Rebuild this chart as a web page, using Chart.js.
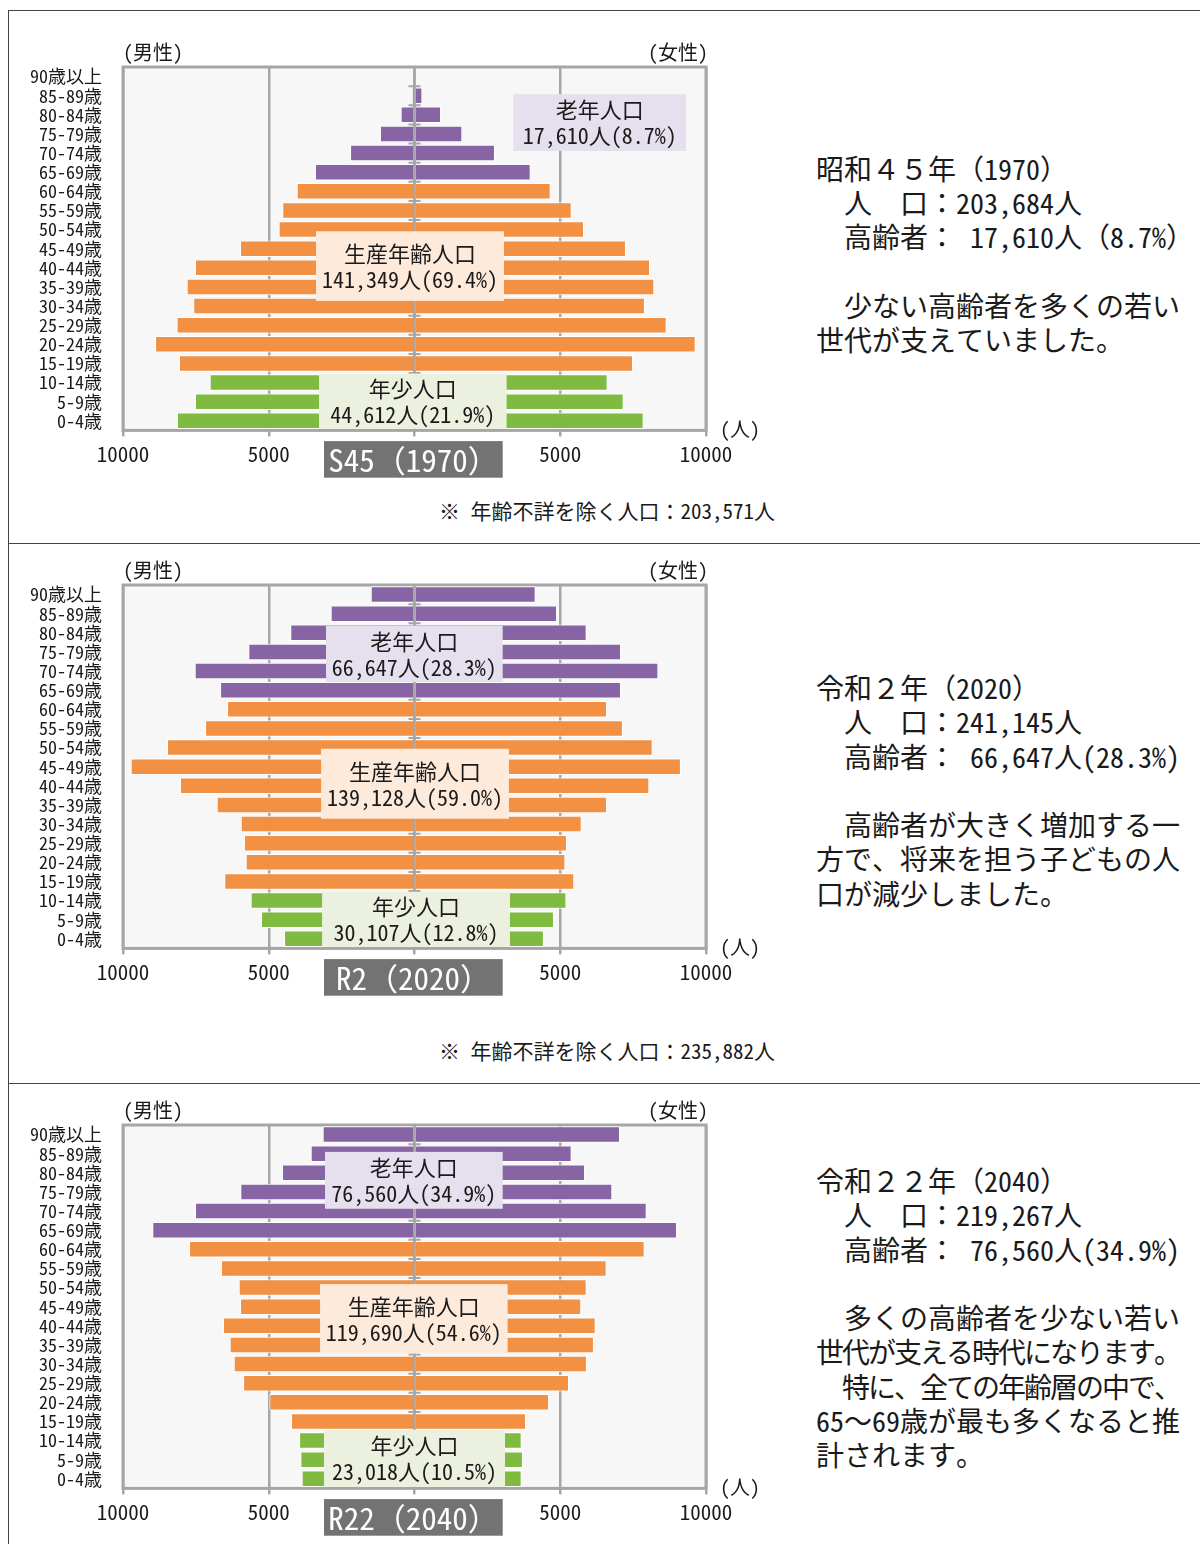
<!DOCTYPE html>
<html lang="ja">
<head>
<meta charset="UTF-8">
<title>人口ピラミッド</title>
<script src="https://cdn.jsdelivr.net/npm/chart.js@4.4.1/dist/chart.umd.min.js"></script>
<style>
  html, body { margin: 0; padding: 0; background: #fff; }
  body { width: 1200px; height: 1544px; position: relative; overflow: hidden;
         font-family: "Noto Sans Mono CJK JP", "Noto Sans CJK JP", sans-serif; color: #1a1a1a; }
  .frame { position: absolute; left: 8px; top: 10px; right: 0; bottom: 0;
           border-left: 1.5px solid #444; border-top: 1.5px solid #444; }
  .sep { position: absolute; left: 8px; right: 0; height: 0; border-top: 1.5px solid #444; }
  canvas { position: absolute; left: 0; }
  .desc { position: absolute; left: 816px; font-size: 28px; line-height: 34.3px; white-space: pre; }
  .tight { letter-spacing: -2px; }
  .note { position: absolute; left: 439px; font-size: 21px; line-height: 28px; white-space: pre; }
</style>
</head>
<body>
<div class="frame"></div>
<div class="sep" style="top:543px"></div>
<div class="sep" style="top:1083px"></div>

<canvas id="c1970" width="800" height="470" style="top:21.8px"></canvas>
<canvas id="c2020" width="800" height="470" style="top:540px"></canvas>
<canvas id="c2040" width="800" height="470" style="top:1080.1px"></canvas>

<div class="desc" style="top:150.8px">昭和４５年（1970）
　人　口：203,684人
　高齢者： 17,610人（8.7%）

　少ない高齢者を多くの若い
世代が支えていました。</div>
<div class="note" style="top:496px">※ 年齢不詳を除く人口：203,571人</div>

<div class="desc" style="top:670px">令和２年（2020）
　人　口：241,145人
　高齢者： 66,647人(28.3%)

　高齢者が大きく増加する一
方で、将来を担う子どもの人
口が減少しました。</div>
<div class="note" style="top:1036px">※ 年齢不詳を除く人口：235,882人</div>

<div class="desc" style="top:1163px">令和２２年（2040）
　人　口：219,267人
　高齢者： 76,560人(34.9%)

　多くの高齢者を少ない若い
<span class="tight">世代が支える時代になります。</span>
<span class="tight">　特に、全ての年齢層の中で、</span>
65～69歳が最も多くなると推
計されます。</div>

<script>
// age groups, top row first
const ages = ['90歳以上', '85-89歳', '80-84歳', '75-79歳', '70-74歳', '65-69歳',
  '60-64歳', '55-59歳', '50-54歳', '45-49歳', '40-44歳', '35-39歳', '30-34歳',
  '25-29歳', '20-24歳', '15-19歳', '10-14歳', '5-9歳', '0-4歳'];
const ageGroup = ['old', 'old', 'old', 'old', 'old', 'old',
  'work', 'work', 'work', 'work', 'work', 'work', 'work', 'work', 'work', 'work',
  'young', 'young', 'young'];

const male1970   = [20, 75, 475, 1185, 2210, 3415, 4040, 4535, 4660, 5985, 7530, 7815, 7590, 8160, 8900, 8080, 7025, 7530, 8150];
const female1970 = [60, 270, 910, 1640, 2760, 3985, 4670, 5390, 5815, 7255, 8080, 8225, 7905, 8650, 9645, 7495, 6625, 7175, 7860];
const male2020   = [1500, 2875, 4260, 5700, 7540, 6670, 6430, 7185, 8490, 9735, 8045, 6785, 5960, 5850, 5790, 6525, 5620, 5265, 4475];
const female2020 = [4155, 4890, 5905, 7085, 8365, 7085, 6605, 7150, 8170, 9140, 8055, 6605, 5735, 5230, 5175, 5480, 5210, 4785, 4440];
const male2040   = [3150, 3560, 4545, 5975, 7530, 8995, 7735, 6640, 6030, 5985, 6570, 6340, 6200, 5880, 4980, 4235, 3960, 3915, 3870];
const female2040 = [7050, 5390, 5850, 6785, 7965, 9005, 7895, 6590, 5905, 5720, 6215, 6155, 5915, 5300, 4615, 3825, 3675, 3720, 3675];

const FONT = "'Noto Sans Mono CJK JP', 'Noto Sans CJK JP', sans-serif";
const GRID = '#a6a6a6';
const barColor = { old: '#8764a3', work: '#f29143', young: '#80bb41' };
const boxColor = { old: '#e5dfee', work: '#fdeadb', young: '#ebf1de' };
const barColors = ageGroup.map(g => barColor[g]);

// draws plot background, frame, centre axis, group boxes and labels
const decor = {
  id: 'decor',
  beforeDraw(chart) {
    const { ctx, chartArea: a } = chart;
    ctx.save();
    ctx.fillStyle = '#f7f7f7';
    ctx.fillRect(a.left, a.top, a.right - a.left, a.bottom - a.top);
    ctx.restore();
  },
  beforeDatasetsDraw(chart) {
    const { ctx, chartArea: a } = chart;
    ctx.save();
    ctx.strokeStyle = GRID;
    ctx.lineWidth = 3;
    ctx.strokeRect(a.left, a.top, a.right - a.left, a.bottom - a.top);
    ctx.restore();
  },
  afterDatasetsDraw(chart, args, opts) {
    const { ctx, chartArea: a, scales: { x, y } } = chart;
    const cx = x.getPixelForValue(0);
    ctx.save();
    ctx.strokeStyle = GRID;
    ctx.lineWidth = 2.5;
    ctx.beginPath();
    ctx.moveTo(cx, a.top);
    ctx.lineTo(cx, a.bottom);
    ctx.stroke();
    ctx.lineWidth = 2;
    ctx.beginPath();
    for (let i = 0; i < ages.length - 1; i++) {
      const yy = y.getPixelForValue(i + 0.5);
      ctx.moveTo(cx - 6, yy);
      ctx.lineTo(cx + 6, yy);
    }
    ctx.stroke();

    ctx.textAlign = 'center';
    ctx.textBaseline = 'middle';
    ctx.font = '22px ' + FONT;
    opts.boxes.forEach(b => {
      const l = x.getPixelForValue(b.x0), r = x.getPixelForValue(b.x1);
      const t = y.getPixelForValue(b.r0);
      const btm = b.r1 === null ? a.bottom - 1.5 : y.getPixelForValue(b.r1);
      ctx.fillStyle = boxColor[b.group];
      ctx.fillRect(l, t, r - l, btm - t);
      ctx.fillStyle = '#1a1a1a';
      const mx = (l + r) / 2, my = (t + btm) / 2;
      ctx.fillText(b.lines[0], mx, my - 12.5);
      ctx.fillText(b.lines[1], mx, my + 13.5);
    });

    // year tag under the centre
    ctx.fillStyle = '#737373';
    ctx.fillRect(cx - 90.5, a.bottom + 10.7, 178.7, 36.6);
    ctx.fillStyle = '#fff';
    ctx.font = '31px ' + FONT;
    ctx.fillText(opts.tag, cx - 1, a.bottom + 29.5);

    ctx.fillStyle = '#1a1a1a';
    ctx.font = '20px ' + FONT;
    ctx.textAlign = 'left';
    ctx.fillText('(男性)', a.left, a.top - 14.5);
    ctx.fillText('(人)', a.right + 14, a.bottom - 1);
    ctx.textAlign = 'right';
    ctx.fillText('(女性)', a.right + 2, a.top - 14.5);
    ctx.restore();
  }
};

function pyramid(id, male, female, boxes, tag) {
  return new Chart(document.getElementById(id), {
    type: 'bar',
    data: {
      labels: ages,
      datasets: [
        { label: '男性', data: male.map(v => -v), backgroundColor: barColors },
        { label: '女性', data: female, backgroundColor: barColors }
      ]
    },
    options: {
      indexAxis: 'y',
      responsive: false,
      animation: false,
      layout: { padding: { top: 45, right: 94, bottom: 21.6, left: 0 } },
      datasets: {
        bar: { borderColor: '#ffffff', borderWidth: 1, barPercentage: 0.86, categoryPercentage: 1 }
      },
      scales: {
        x: {
          stacked: true, min: -10000, max: 10000,
          ticks: {
            stepSize: 5000, color: '#1a1a1a', padding: 5,
            font: { family: FONT, size: 21 },
            callback: v => v === 0 ? '' : String(Math.abs(v))
          },
          grid: { color: GRID, lineWidth: 2.5, tickLength: 6 },
          border: { display: false },
          afterFit: s => { s.height = 40; }
        },
        y: {
          stacked: true,
          grid: { display: false, drawTicks: false },
          border: { display: false },
          ticks: { color: '#1a1a1a', padding: 21, autoSkip: false, font: { family: FONT, size: 18 } },
          afterFit: s => { s.width = 123; }
        }
      },
      plugins: {
        legend: { display: false },
        tooltip: { enabled: false },
        decor: { boxes: boxes, tag: tag }
      }
    },
    plugins: [decor]
  });
}

pyramid('c1970', male1970, female1970, [
  { group: 'old', x0: 3390, x1: 9315, r0: 0.92, r1: 3.89, lines: ['老年人口', '17,610人(8.7%)'] },
  { group: 'work', x0: -3380, x1: 3070, r0: 8.09, r1: 11.73, lines: ['生産年齢人口', '141,349人(69.4%)'] },
  { group: 'young', x0: -3275, x1: 3160, r0: 15.53, r1: null, lines: ['年少人口', '44,612人(21.9%)'] }
], 'S45（1970）');

pyramid('c2020', male2020, female2020, [
  { group: 'old', x0: -3035, x1: 3025, r0: 1.63, r1: 4.58, lines: ['老年人口', '66,647人(28.3%)'] },
  { group: 'work', x0: -3205, x1: 3240, r0: 8.06, r1: 11.72, lines: ['生産年齢人口', '139,128人(59.0%)'] },
  { group: 'young', x0: -3170, x1: 3275, r0: 15.54, r1: null, lines: ['年少人口', '30,107人(12.8%)'] }
], 'R2（2020）');

pyramid('c2040', male2040, female2040, [
  { group: 'old', x0: -3070, x1: 3025, r0: 0.905, r1: 3.88, lines: ['老年人口', '76,560人(34.9%)'] },
  { group: 'work', x0: -3240, x1: 3195, r0: 7.82, r1: 11.45, lines: ['生産年齢人口', '119,690人(54.6%)'] },
  { group: 'young', x0: -3105, x1: 3105, r0: 15.43, r1: null, lines: ['年少人口', '23,018人(10.5%)'] }
], 'R22（2040）');
</script>
</body>
</html>
